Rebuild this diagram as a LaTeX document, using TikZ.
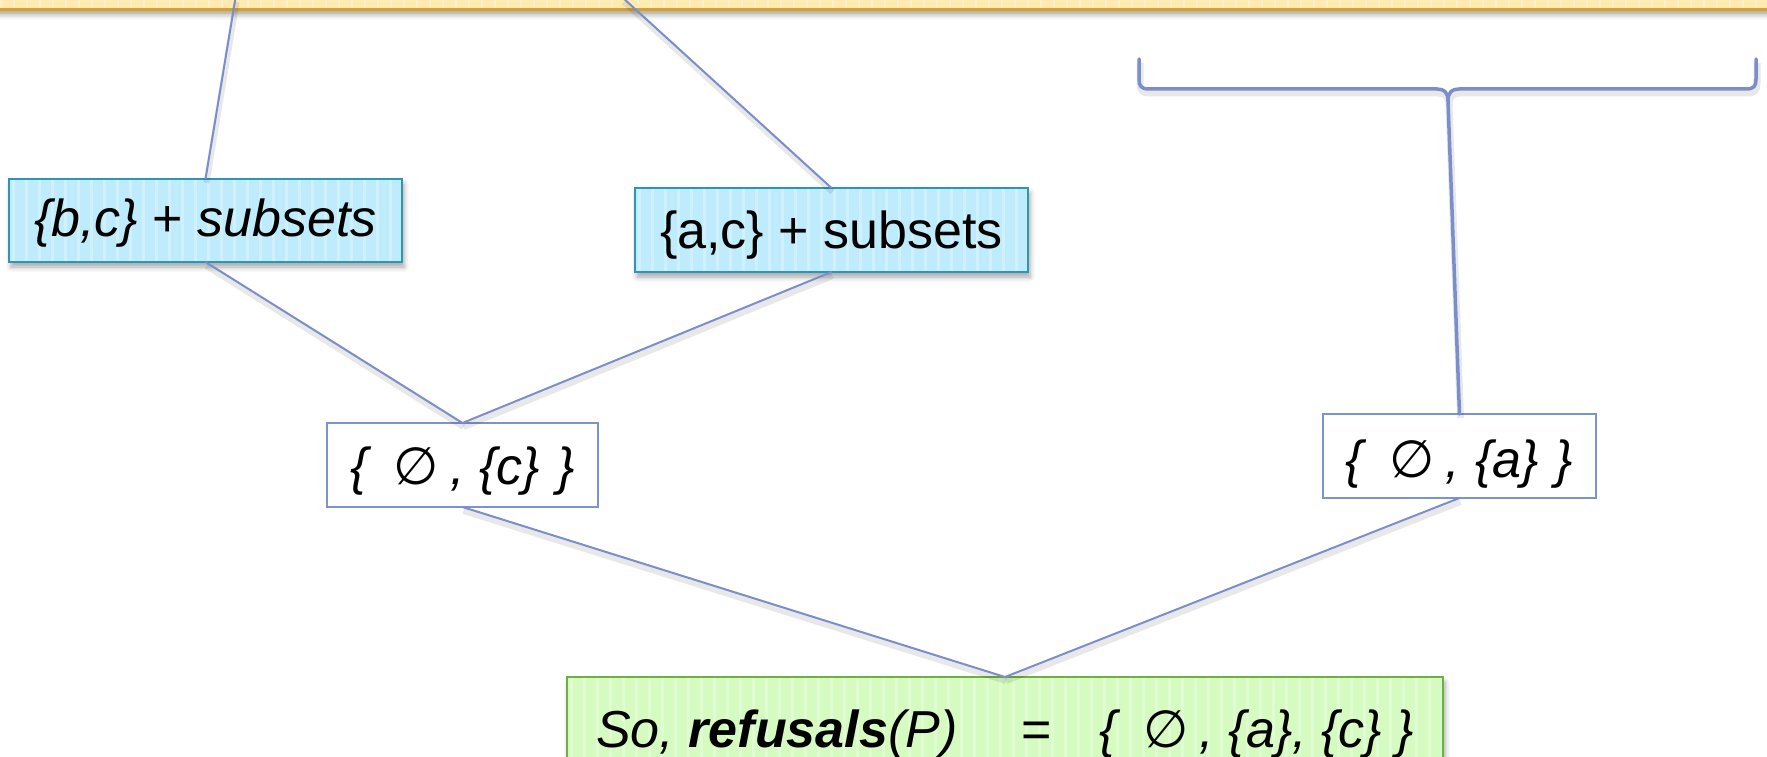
\documentclass[tikz,border=0pt]{standalone}
\usepackage{fontspec}
\setmainfont{Liberation Sans}
\newfontfamily\symfont{DejaVu Sans}
\usetikzlibrary{shadows.blur}

\newcommand{\eset}{{\symfont\upshape ∅}}

\definecolor{wireblue}{HTML}{7B8ECC}
\definecolor{plainedge}{HTML}{7C93D2}
\definecolor{bluefill}{HTML}{BFECFC}
\definecolor{blueedge}{HTML}{2B95BA}
\definecolor{greenfill}{HTML}{D5FBC1}
\definecolor{greenedge}{HTML}{6DB23E}
\definecolor{bandfill}{HTML}{FFEBB2}
\definecolor{bandedge}{HTML}{D9A026}

\tikzset{
  stripes/.style={path picture={
    \foreach \k in {0,...,140}{
      \fill[white,opacity=0.28]
        ([xshift=\k*13pt+3pt]path picture bounding box.south west) rectangle
        ([xshift=\k*13pt+5.5pt]path picture bounding box.north west);
    }}},
  softshadow/.style={blur shadow={shadow xshift=2pt, shadow yshift=-5pt,
    shadow blur radius=5pt, shadow opacity=35}},
  box/.style={rectangle, inner sep=0pt, outer sep=0pt,
    font=\fontsize{52}{62}\selectfont},
  bandbox/.style={rectangle, inner sep=0pt, draw=bandedge, line width=2.5pt,
    fill=bandfill, stripes, softshadow},
  bluebox/.style={box, draw=blueedge, line width=2.5pt, fill=bluefill,
    stripes, softshadow},
  plainbox/.style={box, draw=plainedge, line width=2pt, fill=white},
  greenbox/.style={box, draw=greenedge, line width=2pt, fill=greenfill,
    stripes, softshadow},
  lineshade/.style={preaction={draw=black, opacity=0.09, line width=#1,
    transform canvas={shift={(1pt,-4pt)}}}},
  wire/.style={draw=wireblue, line width=2pt, lineshade=6pt},
  brace/.style={draw=wireblue, line width=3.5pt, line cap=round,
    line join=round, lineshade=7pt},
}

\begin{document}
\begin{tikzpicture}[x=1pt,y=-1pt]
\useasboundingbox (0,0) rectangle (1767,757);

% title band running along the top edge
\node[bandbox, minimum width=1800pt, minimum height=60pt, anchor=south]
  (band) at (883.5,11) {};

% boxes
\node[bluebox, minimum width=393pt, minimum height=83pt] (bc) at (205.5,220.5)
  {\raisebox{-15.5pt}[0pt][0pt]{\itshape\{b,c\} \upshape+ \itshape subsets}};
\node[bluebox, minimum width=393pt, minimum height=84pt] (ac) at (831.5,230)
  {\raisebox{-18pt}[0pt][0pt]{\{a,c\} + subsets}};
\node[plainbox, minimum width=271pt, minimum height=84pt] (c) at (462.5,465)
  {\raisebox{-19pt}[0pt][0pt]{\itshape\{\hspace{26pt}\eset\hspace{11pt},\hspace{15pt}\{c\}\hspace{17pt}\}}};
\node[plainbox, minimum width=273pt, minimum height=84pt] (a) at (1459.5,456)
  {\raisebox{-21pt}[0pt][0pt]{\itshape\{\hspace{26pt}\eset\hspace{11pt},\hspace{15pt}\{a\}\hspace{17pt}\}}};
\node[greenbox, minimum width=876pt, minimum height=160pt, anchor=north]
  (res) at (1005,677)
  {\raisebox{10pt}[0pt][0pt]{\itshape So, \bfseries refusals\mdseries(P)\upshape\hspace{64pt}=\hspace{48pt}\itshape\{\hspace{26pt}\eset\hspace{11pt},\hspace{15pt}\{a\}, \{c\} \}}};

% connectors
\coordinate (t1) at (235.5,-2);
\coordinate (t2) at (623,-2);
\draw[wire] (t1) -- (bc.north);
\draw[wire] (t2) -- (ac.north);
\draw[wire] (bc.south) -- (c.north);
\draw[wire] (ac.south) -- (c.north);
\draw[wire] (c.south) -- (res.north);
\draw[wire] (a.south) -- (res.north);

% curly bracket gathering into {∅,{a}}
\coordinate (bl) at (1139,59);
\coordinate (br) at (1756,59);
\coordinate (cusp) at (1448,101);
\draw[brace] (bl) -- ++(0,20) .. controls (1139,86) and (1141,89) .. (1149,89)
  -- (1437,89) .. controls (1444,89) and (1448,92) .. (cusp)
  .. controls (1448,92) and (1452,89) .. (1459,89)
  -- (1746,89) .. controls (1754,89) and (1756,86) .. (1756,79) -- (br);
\draw[brace] (cusp) -- (a.north);
\end{tikzpicture}
\end{document}
